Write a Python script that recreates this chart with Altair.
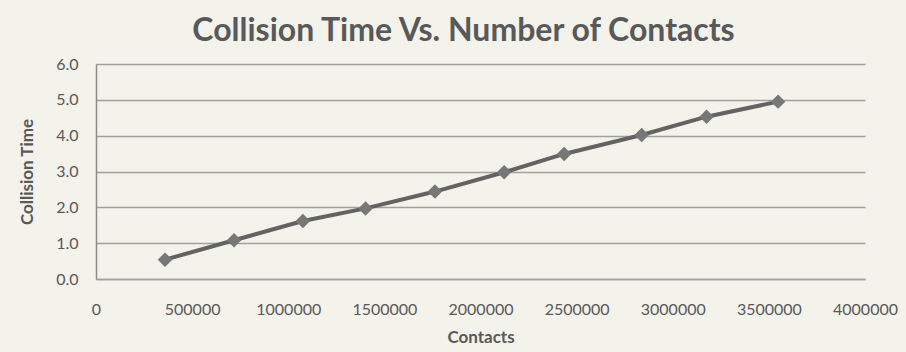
import altair as alt
import pandas as pd

contacts = [359000, 718000, 1076000, 1402000, 1763000, 2123000, 2435000, 2838000, 3176000, 3548000]
times = [0.54, 1.08, 1.62, 1.97, 2.44, 2.98, 3.49, 4.02, 4.53, 4.95]
x_ticks = [0, 500000, 1000000, 1500000, 2000000, 2500000, 3000000, 3500000, 4000000]
y_ticks = [0, 1, 2, 3, 4, 5, 6]

df = pd.DataFrame({"Contacts": contacts, "Collision Time": times})

FONT = "Lato"
TXT = "#595959"

x = alt.X("Contacts:Q",
          scale=alt.Scale(domain=[0, 4000000], nice=False, zero=True),
          axis=alt.Axis(values=x_ticks, format="d", grid=False, ticks=False,
                        domainColor="#A0A0A0", domainWidth=1.5,
                        labelFont=FONT, labelFontSize=16, labelColor=TXT,
                        labelPadding=22, labelOverlap=False, labelFlush=False,
                        title="Contacts", titleFont=FONT, titleFontSize=17,
                        titleFontWeight="bold", titleColor=TXT, titlePadding=12))
y = alt.Y("Collision Time:Q",
          scale=alt.Scale(domain=[0, 6], nice=False),
          axis=alt.Axis(values=y_ticks, format=".1f", grid=True, ticks=False,
                        gridColor="#A0A0A0", gridWidth=1.5,
                        domainColor="#8C8C8C", domainWidth=1.5,
                        labelFont=FONT, labelFontSize=16, labelColor=TXT,
                        labelPadding=18,
                        title="Collision Time", titleFont=FONT, titleFontSize=17,
                        titleFontWeight="bold", titleColor=TXT, titlePadding=19))

line = alt.Chart(df).mark_line(color="#636363", strokeWidth=4).encode(x=x, y=y)
pts = alt.Chart(df).mark_point(shape="diamond", filled=True, size=210,
                               color="#777777", opacity=1).encode(x=x, y=y)

chart = (line + pts).properties(
    width=769, height=215,
    autosize=alt.AutoSizeParams(type="none"),
    padding={"left": 96, "top": 64, "right": 41, "bottom": 73},
    background="#F3F2EB",
    title=alt.TitleParams("Collision Time Vs. Number of Contacts",
                          font=FONT, fontSize=32, fontWeight="bold", color=TXT,
                          anchor="middle", dx=-17, offset=8),
).configure_view(strokeWidth=0)

chart.save("out.html", embed_options={"renderer": "svg", "actions": False})
